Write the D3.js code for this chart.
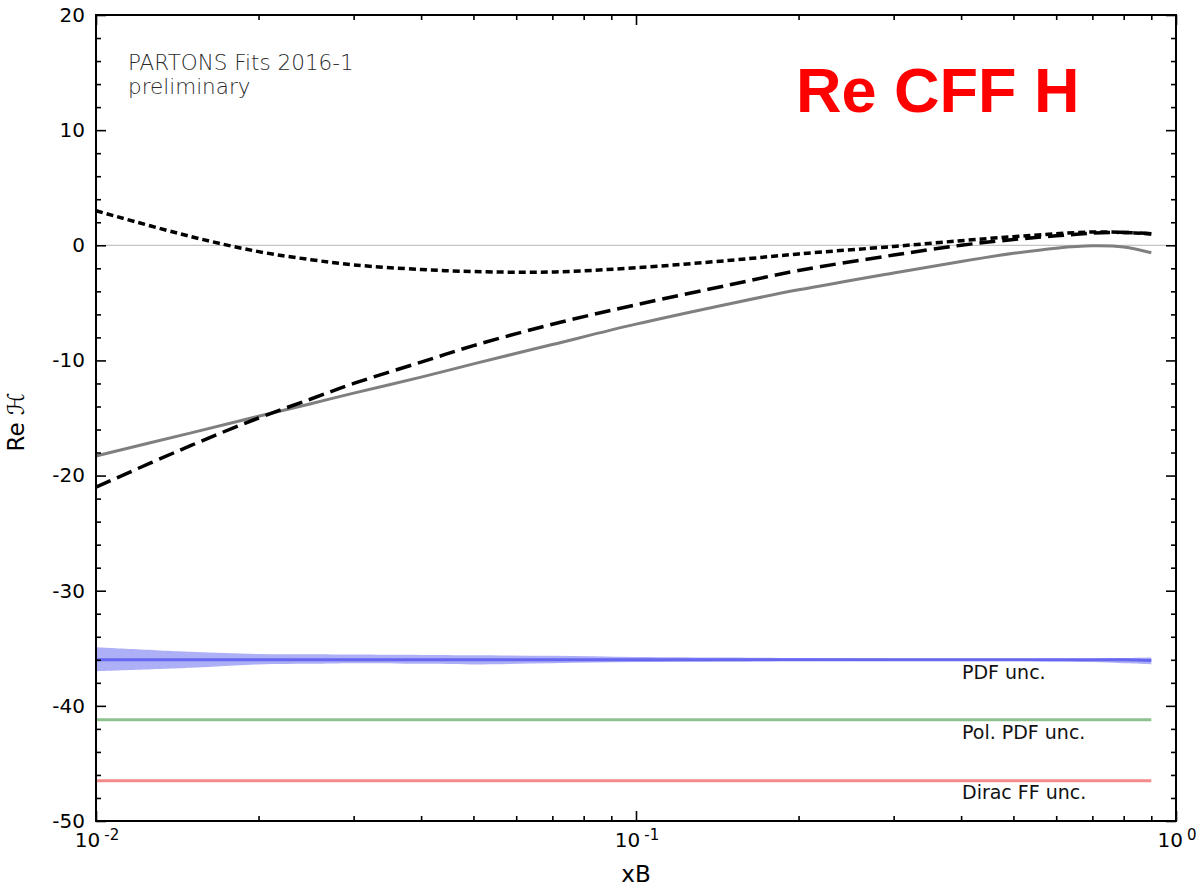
<!DOCTYPE html>
<html>
<head>
<meta charset="utf-8">
<script src="https://cdn.jsdelivr.net/npm/d3@7"></script>
<style>
  html, body { margin: 0; padding: 0; background: #fff; }
  svg { display: block; font-family: "DejaVu Sans", sans-serif; }
</style>
</head>
<body>
<div id="chart"></div>
<script>
// sample points along xB
const xB = [0.01, 0.015, 0.02, 0.025, 0.03, 0.04, 0.05, 0.07, 0.1, 0.15, 0.2, 0.3, 0.4, 0.5, 0.6, 0.7, 0.8, 0.9];

// model curves (Re H)
const dottedVals = [3.0, 0.75, -0.55, -1.25, -1.7, -2.1, -2.28, -2.32, -1.95, -1.3, -0.75, -0.1, 0.4, 0.75, 1.0, 1.15, 1.12, 0.98];
const dashedVals = [-21.0, -17.38, -15.0, -13.35, -12.0, -10.15, -8.72, -6.86, -5.17, -3.41, -2.19, -0.85, 0.0, 0.5, 0.82, 1.05, 1.12, 1.0];
const solidVals  = [-18.3, -16.29, -14.85, -13.76, -12.84, -11.45, -10.3, -8.62, -6.85, -5.05, -3.87, -2.4, -1.4, -0.7, -0.25, -0.05, -0.15, -0.65];

// uncertainty bands (shifted for display)
const pdfCenter = [-36.0, -36.0, -36.0, -36.0, -36.0, -36.0, -36.0, -36.0, -36.0, -36.0, -36.0, -36.0, -36.0, -36.0, -36.0, -36.0, -36.0, -36.05];
const pdfLow    = [-37.0, -36.7, -36.4, -36.35, -36.3, -36.35, -36.4, -36.3, -36.2, -36.15, -36.1, -36.1, -36.1, -36.1, -36.15, -36.2, -36.3, -36.4];
const pdfHigh   = [-34.9, -35.3, -35.5, -35.52, -35.55, -35.58, -35.6, -35.65, -35.75, -35.8, -35.85, -35.9, -35.9, -35.9, -35.9, -35.9, -35.85, -35.8];
const polVals   = xB.map(() => -41.2);
const diracVals = xB.map(() => -46.5);

const uncLabels = ["PDF unc.", "Pol. PDF unc.", "Dirac FF unc."];
const uncLabelY = [-37.7, -42.9, -48.1];

const yTicks = [-50, -40, -30, -20, -10, 0, 10, 20];
const yMinor = d3.range(-48, 20, 2).filter(v => v % 10 !== 0);
const xTicks = [0.01, 0.1, 1];
const xTickExp = ["-2", "-1", "0"];
const xMinor = [2, 3, 4, 5, 6, 7, 8, 9].map(d => d * 0.01).concat([2, 3, 4, 5, 6, 7, 8, 9].map(d => d * 0.1));

const W = 1198, H = 887;
const m = {l: 96, r: 22, t: 15, b: 66};

const svg = d3.select("#chart").append("svg")
    .attr("width", W).attr("height", H);

const x = d3.scaleLog().domain([0.01, 1]).range([m.l, W - m.r]);
const y = d3.scaleLinear().domain([-50, 20]).range([H - m.b, m.t]);

const line = vals => d3.line()
    .x((d, i) => x(xB[i]))
    .y(d => y(d))
    .curve(d3.curveCatmullRom.alpha(0.5))(vals);

// zero line
svg.append("line")
    .attr("x1", x(0.01)).attr("x2", x(1))
    .attr("y1", y(0)).attr("y2", y(0))
    .attr("stroke", "#c4c4c4").attr("stroke-width", 1.2);

// PDF band
svg.append("path")
    .attr("d", d3.area()
        .x((d, i) => x(xB[i]))
        .y0((d, i) => y(pdfLow[i]))
        .y1((d, i) => y(pdfHigh[i]))
        .curve(d3.curveCatmullRom.alpha(0.5))(xB))
    .attr("fill", "#aeb0f7");

svg.append("path").attr("d", line(pdfCenter))
    .attr("fill", "none").attr("stroke", "#6666f0").attr("stroke-width", 3);
svg.append("path").attr("d", line(polVals))
    .attr("fill", "none").attr("stroke", "#8fc08f").attr("stroke-width", 3);
svg.append("path").attr("d", line(diracVals))
    .attr("fill", "none").attr("stroke", "#f28a8a").attr("stroke-width", 3);

// model curves
svg.append("path").attr("d", line(solidVals))
    .attr("fill", "none").attr("stroke", "#7f7f7f").attr("stroke-width", 3);
svg.append("path").attr("d", line(dashedVals))
    .attr("fill", "none").attr("stroke", "#000").attr("stroke-width", 3.5)
    .attr("stroke-dasharray", "16,7");
svg.append("path").attr("d", line(dottedVals))
    .attr("fill", "none").attr("stroke", "#000").attr("stroke-width", 3.5)
    .attr("stroke-dasharray", "7,4");

// band labels
svg.selectAll("text.unc")
    .data(uncLabels)
    .enter().append("text")
    .attr("class", "unc")
    .attr("x", 962)
    .attr("y", (d, i) => y(uncLabelY[i]))
    .attr("font-size", 19)
    .attr("fill", "#111")
    .text(d => d);

// axes: ticks point inward
const axStyle = g => {
    g.select(".domain").remove();
    g.selectAll(".tick line").attr("stroke", "#000").attr("stroke-width", 1.6);
    g.selectAll(".tick text").attr("font-size", 20).attr("fill", "#000")
        .attr("font-family", "DejaVu Sans, sans-serif");
};

svg.append("g").attr("transform", `translate(${m.l},0)`)
    .call(d3.axisLeft(y).tickValues(yTicks).tickSize(-10).tickPadding(11).tickFormat(d => String(d)))
    .call(axStyle);
svg.append("g").attr("transform", `translate(${m.l},0)`)
    .call(d3.axisLeft(y).tickValues(yMinor).tickSize(-5).tickFormat(""))
    .call(axStyle);
svg.append("g").attr("transform", `translate(${W - m.r},0)`)
    .call(d3.axisRight(y).tickValues(yTicks).tickSize(-10).tickFormat(""))
    .call(axStyle);
svg.append("g").attr("transform", `translate(${W - m.r},0)`)
    .call(d3.axisRight(y).tickValues(yMinor).tickSize(-5).tickFormat(""))
    .call(axStyle);

svg.append("g").attr("transform", `translate(0,${H - m.b})`)
    .call(d3.axisBottom(x).tickValues(xTicks).tickSize(-10).tickFormat(""))
    .call(axStyle);
svg.append("g").attr("transform", `translate(0,${H - m.b})`)
    .call(d3.axisBottom(x).tickValues(xMinor).tickSize(-5).tickFormat(""))
    .call(axStyle);
svg.append("g").attr("transform", `translate(0,${m.t})`)
    .call(d3.axisTop(x).tickValues(xTicks).tickSize(-10).tickFormat(""))
    .call(axStyle);
svg.append("g").attr("transform", `translate(0,${m.t})`)
    .call(d3.axisTop(x).tickValues(xMinor).tickSize(-5).tickFormat(""))
    .call(axStyle);

// x tick labels as 10^n
const xl = svg.selectAll("text.xtl")
    .data(xTicks)
    .enter().append("text")
    .attr("class", "xtl")
    .attr("x", d => x(d) + 1)
    .attr("y", H - m.b + 26)
    .attr("text-anchor", "middle")
    .attr("font-size", 20);
xl.append("tspan").text("10");
xl.append("tspan").attr("dx", 4).attr("dy", -7).attr("font-size", 15)
    .text((d, i) => xTickExp[i]);

// frame
svg.append("rect")
    .attr("x", m.l).attr("y", m.t)
    .attr("width", W - m.l - m.r).attr("height", H - m.t - m.b)
    .attr("fill", "none").attr("stroke", "#000").attr("stroke-width", 2);

// axis titles
svg.append("text")
    .attr("x", x(0.1)).attr("y", 882)
    .attr("text-anchor", "middle").attr("font-size", 23)
    .text("xB");
svg.append("text")
    .attr("transform", `translate(24,422) rotate(-90)`)
    .attr("text-anchor", "middle").attr("font-size", 23)
    .text("Re ℋ");

// annotations
const note = svg.append("text")
    .attr("x", 128).attr("y", 70)
    .attr("font-size", 21.5).attr("font-weight", 200)
    .attr("fill", "#2a2a2a");
note.append("tspan").attr("x", 128).text("PARTONS Fits 2016-1");
note.append("tspan").attr("x", 128).attr("dy", 24).text("preliminary");

svg.append("text")
    .attr("x", 796).attr("y", 112)
    .attr("font-family", "Liberation Sans, Arial, sans-serif")
    .attr("font-weight", "bold").attr("font-size", 63)
    .attr("fill", "#ff0000")
    .text("Re CFF H");
</script>
</body>
</html>
